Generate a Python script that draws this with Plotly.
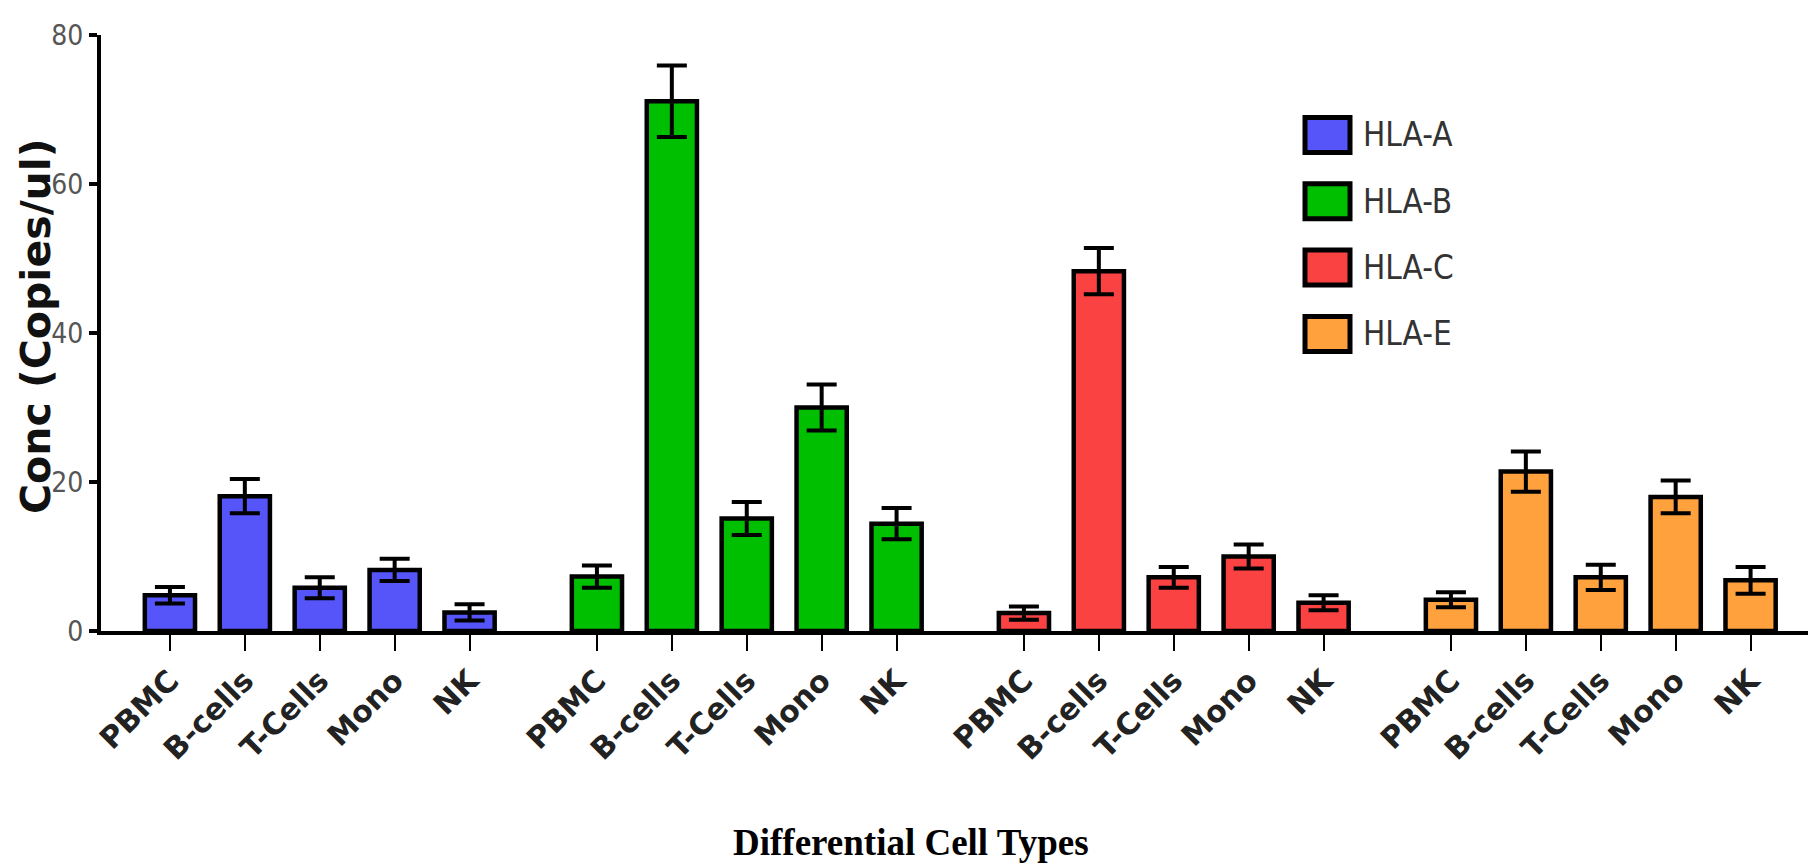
import plotly.graph_objects as go

# ---- data ----
cell_types = ["PBMC", "B-cells", "T-Cells", "Mono", "NK"]
series_names = ["HLA-A", "HLA-B", "HLA-C", "HLA-E"]
series_colors = ["#5555FA", "#00BE00", "#FA4242", "#FFA23E"]

hla_a = [4.8, 18.1, 5.8, 8.2, 2.5]
hla_a_err = [1.1, 2.3, 1.4, 1.5, 1.1]
hla_b = [7.3, 71.1, 15.1, 30.0, 14.4]
hla_b_err = [1.5, 4.8, 2.2, 3.1, 2.1]
hla_c = [2.4, 48.3, 7.2, 10.0, 3.8]
hla_c_err = [0.9, 3.1, 1.4, 1.6, 1.0]
hla_e = [4.2, 21.4, 7.2, 18.0, 6.8]
hla_e_err = [1.0, 2.7, 1.7, 2.2, 1.8]

y_ticks = [0, 20, 40, 60, 80]

values = [hla_a, hla_b, hla_c, hla_e]
errors = [hla_a_err, hla_b_err, hla_c_err, hla_e_err]

GROUP_STRIDE = 5.7  # slot positions between groups

fig = go.Figure()
tickvals, ticktext = [], []
for g, (name, color, vals, errs) in enumerate(zip(series_names, series_colors, values, errors)):
    xs = [g * GROUP_STRIDE + i for i in range(len(cell_types))]
    tickvals += xs
    ticktext += cell_types
    fig.add_trace(go.Bar(
        x=xs, y=vals, name=name, width=0.67,
        marker=dict(color=color, line=dict(color="black", width=4.5)),
        error_y=dict(type="data", array=errs, visible=True, color="black",
                     thickness=4, width=15),
        showlegend=False,
    ))

W, H = 1816, 864
ml, mr, mt, mb = 93, 0, 27, 241
pw, ph = W - ml - mr, H - mt - mb

def px_to_paper_x(px):
    return (px - ml) / pw

def px_to_paper_y(py):
    return (H - mb - py) / ph

# manual legend (large rounded swatches like the original)
shapes, annotations = [], []
leg_x0, leg_w, leg_h = 1297, 45, 35
leg_y0, leg_step = 127, 66.3
for k, (name, color) in enumerate(zip(series_names, series_colors)):
    cy = leg_y0 + k * leg_step
    shapes.append(dict(
        type="rect", xref="paper", yref="paper",
        x0=px_to_paper_x(leg_x0), x1=px_to_paper_x(leg_x0 + leg_w),
        y0=px_to_paper_y(cy + leg_h / 2), y1=px_to_paper_y(cy - leg_h / 2),
        fillcolor=color, line=dict(color="black", width=5),
    ))
    annotations.append(dict(
        text=name, xref="paper", yref="paper",
        x=px_to_paper_x(1353), y=px_to_paper_y(cy),
        xanchor="left", yanchor="middle", showarrow=False,
        font=dict(family="DejaVu Sans Condensed, Liberation Sans Narrow, Liberation Sans",
                  size=33, color="#333333"),
    ))

annotations.append(dict(
    text="Conc (Copies/ul)", xref="paper", yref="paper",
    x=px_to_paper_x(28), y=px_to_paper_y(318), textangle=-90,
    xanchor="center", yanchor="middle", showarrow=False, borderpad=0,
    font=dict(family="DejaVu Sans", size=41, color="#111111", weight="bold"),
))
annotations.append(dict(
    text="<b>Differential Cell Types</b>", xref="paper", yref="paper",
    x=px_to_paper_x(903), y=px_to_paper_y(834),
    xanchor="center", yanchor="middle", showarrow=False,
    font=dict(family="Liberation Serif, Times New Roman, serif", size=37, color="black"),
))

fig.update_layout(
    width=W, height=H,
    margin=dict(l=ml, r=mr, t=mt, b=mb),
    plot_bgcolor="white", paper_bgcolor="white",
    barmode="overlay",
    shapes=shapes, annotations=annotations,
    xaxis=dict(
        range=[-0.92, 22.08], tickvals=tickvals, ticktext=ticktext,
        tickangle=-45, showgrid=False, zeroline=False,
        showline=True, linewidth=4, linecolor="black",
        ticks="outside", ticklen=16, tickwidth=2, tickcolor="black",
        tickfont=dict(family="DejaVu Sans", size=30, color="#222222", weight="bold"),
    ),
    yaxis=dict(
        range=[0, 80], tickvals=y_ticks, showgrid=False, zeroline=False,
        showline=True, linewidth=4, linecolor="black",
        ticks="outside", ticklen=8, tickwidth=4, tickcolor="black",
        tickfont=dict(family="DejaVu Sans Condensed, Liberation Sans Narrow, Liberation Sans",
                      size=28, color="#555555"),
    ),
)

fig.write_html("out.html")
